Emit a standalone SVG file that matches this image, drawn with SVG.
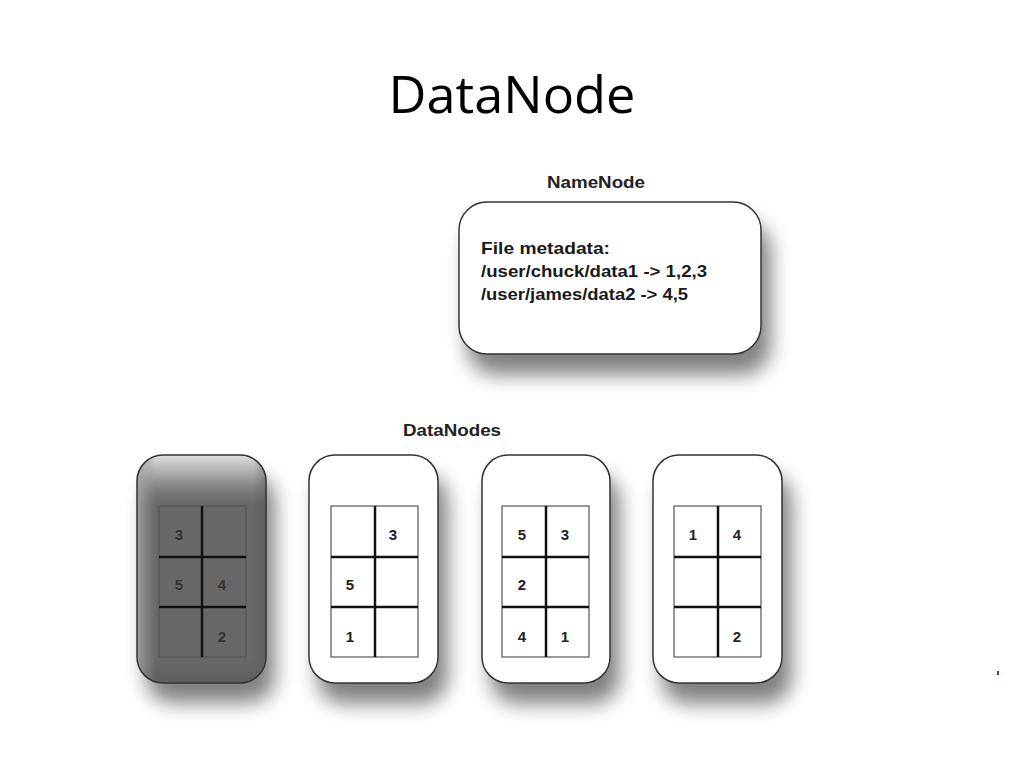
<svg xmlns="http://www.w3.org/2000/svg" width="1024" height="768" viewBox="0 0 1024 768">
<defs>
<style>
.title{font-family:"Open Sans","DejaVu Sans",sans-serif;font-size:52px;fill:#000}
.lbl{font-family:"Liberation Sans",Arial,sans-serif;font-weight:bold;font-size:16px;fill:#222}
.meta{font-family:"Liberation Sans",Arial,sans-serif;font-weight:bold;font-size:17px;fill:#1a1a1a}
.num{font-family:"Liberation Sans",Arial,sans-serif;font-weight:bold;font-size:15px;fill:#222;text-anchor:middle}
.box{fill:#fff;stroke:#333;stroke-width:1.5}
.outer{fill:none;stroke:#555;stroke-width:1.2}
.inner{stroke:#111;stroke-width:2.5}
</style>
<filter id="shadow" x="-30%" y="-30%" width="170%" height="170%">
<feGaussianBlur in="SourceAlpha" stdDeviation="10"/>
<feOffset dx="9" dy="20" result="b"/>
<feComponentTransfer><feFuncA type="linear" slope="0.5"/></feComponentTransfer>
<feMerge><feMergeNode/><feMergeNode in="SourceGraphic"/></feMerge>
</filter>
<linearGradient id="topglow" x1="0" y1="0" x2="0" y2="1">
<stop offset="0" stop-color="#e0e0e0" stop-opacity="1"/>
<stop offset="0.08" stop-color="#bdbdbd" stop-opacity="0.8"/>
<stop offset="0.22" stop-color="#888" stop-opacity="0"/>
<stop offset="0.9" stop-color="#555" stop-opacity="0"/>
<stop offset="1" stop-color="#555" stop-opacity="0.5"/>
</linearGradient>
<linearGradient id="leftglow" x1="0" y1="0" x2="1" y2="0">
<stop offset="0" stop-color="#aaa" stop-opacity="0.8"/>
<stop offset="0.15" stop-color="#999" stop-opacity="0"/>
<stop offset="0.9" stop-color="#555" stop-opacity="0"/>
<stop offset="1" stop-color="#555" stop-opacity="0.4"/>
</linearGradient>
</defs>
<rect width="1024" height="768" fill="#fff"/>
<text class="title" x="512" y="113" text-anchor="middle" textLength="247" lengthAdjust="spacingAndGlyphs">DataNode</text>

<g id="namenode">
<text class="lbl" x="596" y="188" text-anchor="middle" textLength="98" lengthAdjust="spacingAndGlyphs">NameNode</text>
<rect class="box" x="459" y="202" width="302" height="152" rx="28" filter="url(#shadow)"/>
<text class="meta" x="481" y="254" textLength="129" lengthAdjust="spacingAndGlyphs">File metadata:</text>
<text class="meta" x="481" y="277" textLength="226" lengthAdjust="spacingAndGlyphs">/user/chuck/data1 -&gt; 1,2,3</text>
<text class="meta" x="481" y="300" textLength="207" lengthAdjust="spacingAndGlyphs">/user/james/data2 -&gt; 4,5</text>
</g>

<text class="lbl" x="452" y="436" text-anchor="middle" textLength="98" lengthAdjust="spacingAndGlyphs">DataNodes</text>

<g id="datanode1">
<rect x="137" y="455" width="129" height="228" rx="26" filter="url(#shadow)" fill="#686868"/>
<rect x="137" y="455" width="129" height="228" rx="26" fill="url(#topglow)"/>
<rect x="137" y="455" width="129" height="228" rx="26" fill="url(#leftglow)"/>
<rect x="137" y="455" width="129" height="228" rx="26" fill="none" stroke="#333" stroke-width="1.5"/>
<rect class="outer" x="159" y="506" width="87" height="151" stroke="#333"/>
<line class="inner" x1="202" y1="506" x2="202" y2="657"/>
<line class="inner" x1="159" y1="557" x2="246" y2="557"/>
<line class="inner" x1="159" y1="607" x2="246" y2="607"/>
<text class="num" x="179" y="540" fill="#333" style="fill:#333">3</text>
<text class="num" x="179" y="590" style="fill:#333">5</text>
<text class="num" x="222" y="590" style="fill:#333">4</text>
<text class="num" x="222" y="642" style="fill:#333">2</text>
</g>

<g id="datanode2">
<rect class="box" x="309" y="455" width="129" height="228" rx="26" filter="url(#shadow)"/>
<rect class="outer" x="331" y="506" width="87" height="151"/>
<line class="inner" x1="375" y1="506" x2="375" y2="657"/>
<line class="inner" x1="331" y1="557" x2="418" y2="557"/>
<line class="inner" x1="331" y1="607" x2="418" y2="607"/>
<text class="num" x="393" y="540">3</text>
<text class="num" x="350" y="590">5</text>
<text class="num" x="350" y="642">1</text>
</g>

<g id="datanode3">
<rect class="box" x="482" y="455" width="128" height="228" rx="26" filter="url(#shadow)"/>
<rect class="outer" x="502" y="506" width="87" height="151"/>
<line class="inner" x1="546" y1="506" x2="546" y2="657"/>
<line class="inner" x1="502" y1="557" x2="589" y2="557"/>
<line class="inner" x1="502" y1="607" x2="589" y2="607"/>
<text class="num" x="522" y="540">5</text>
<text class="num" x="565" y="540">3</text>
<text class="num" x="522" y="590">2</text>
<text class="num" x="522" y="642">4</text>
<text class="num" x="565" y="642">1</text>
</g>

<g id="datanode4">
<rect class="box" x="653" y="455" width="129" height="228" rx="26" filter="url(#shadow)"/>
<rect class="outer" x="674" y="506" width="87" height="151"/>
<line class="inner" x1="718" y1="506" x2="718" y2="657"/>
<line class="inner" x1="674" y1="557" x2="761" y2="557"/>
<line class="inner" x1="674" y1="607" x2="761" y2="607"/>
<text class="num" x="693" y="540">1</text>
<text class="num" x="737" y="540">4</text>
<text class="num" x="737" y="642">2</text>
</g>

<g id="connectors"></g>
<rect x="997" y="671" width="2" height="4" fill="#3a3aa0"/>
</svg>
